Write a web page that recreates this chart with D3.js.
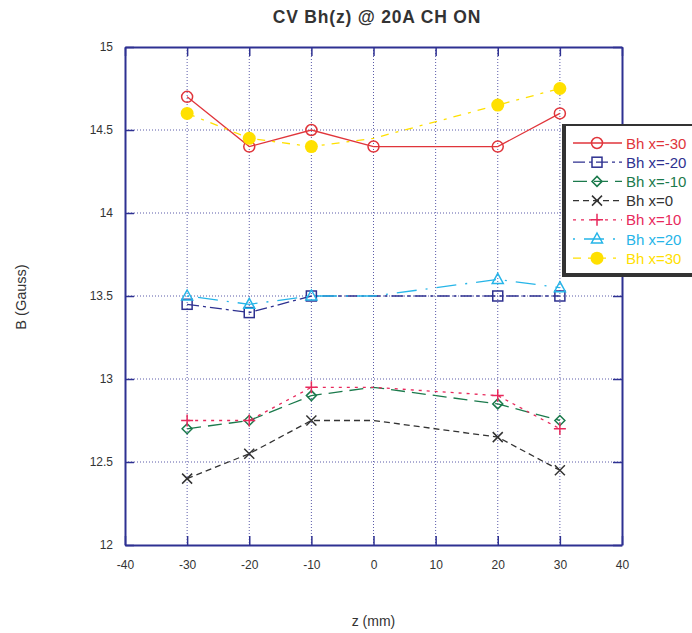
<!DOCTYPE html>
<html>
<head>
<meta charset="utf-8">
<script src="https://cdn.jsdelivr.net/npm/d3@7"></script>
<style>
  html, body { margin: 0; padding: 0; background: #fff; }
  svg { display: block; font-family: "Liberation Sans", Arial, sans-serif; }
</style>
</head>
<body>
<svg id="chart" width="692" height="633"></svg>
<script>
// z positions (mm) where Bh was measured
const zValues = [-30, -20, -10, 0, 20, 30];

// Bh (Gauss) for each transverse offset x
const bhXm30 = [14.7, 14.4, 14.5, 14.4, 14.4, 14.6];
const bhXm20 = [13.45, 13.4, 13.5, 13.5, 13.5, 13.5];
const bhXm10 = [12.7, 12.75, 12.9, 12.95, 12.85, 12.75];
const bhX0   = [12.4, 12.55, 12.75, 12.75, 12.65, 12.45];
const bhX10  = [12.75, 12.75, 12.95, 12.95, 12.9, 12.7];
const bhX20  = [13.5, 13.45, 13.5, 13.5, 13.6, 13.55];
const bhX30  = [14.6, 14.45, 14.4, 14.45, 14.65, 14.75];

const seriesNames = ["Bh x=-30", "Bh x=-20", "Bh x=-10", "Bh x=0", "Bh x=10", "Bh x=20", "Bh x=30"];

const xTicks = [-40, -30, -20, -10, 0, 10, 20, 30, 40];
const yTicks = [12, 12.5, 13, 13.5, 14, 14.5, 15];

const series = [
  { name: seriesNames[0], values: bhXm30, color: "#e0353b", dash: null,            marker: "circle",   markZero: true },
  { name: seriesNames[1], values: bhXm20, color: "#2e3190", dash: "12,4,3,4",      marker: "square",   markZero: false },
  { name: seriesNames[2], values: bhXm10, color: "#1b7a4c", dash: "14,7",          marker: "diamond",  markZero: false },
  { name: seriesNames[3], values: bhX0,   color: "#333333", dash: "6,4",           marker: "cross",    markZero: false },
  { name: seriesNames[4], values: bhX10,  color: "#e8295c", dash: "3,5",           marker: "plus",     markZero: false },
  { name: seriesNames[5], values: bhX20,  color: "#26b5e8", dash: "2,9,20,9",      marker: "triangle", markZero: false },
  { name: seriesNames[6], values: bhX30,  color: "#ffe000", dash: "8,7,3,7",       marker: "dot",      markZero: false }
];

const svg = d3.select("#chart");
const plotLeft = 125, plotRight = 622, plotTop = 47, plotBottom = 545;
const axisColor = "#2e3192";
const textColor = "#333333";

const x = d3.scaleLinear().domain([-40, 40]).range([plotLeft, plotRight]);
const y = d3.scaleLinear().domain([12, 15]).range([plotBottom, plotTop]);

// Title
svg.append("text")
  .attr("x", 377).attr("y", 23)
  .attr("text-anchor", "middle")
  .attr("font-size", 17.5).attr("font-weight", "bold")
  .attr("letter-spacing", 0.8)
  .attr("fill", textColor)
  .text("CV Bh(z) @ 20A CH ON");

// Dotted grid
const grid = svg.append("g");
grid.selectAll("line.gx").data(xTicks.slice(1, -1)).join("line")
  .attr("x1", d => x(d)).attr("x2", d => x(d))
  .attr("y1", plotTop).attr("y2", plotBottom)
  .attr("stroke", "#5a5aa8").attr("stroke-width", 1).attr("stroke-dasharray", "1,2");
grid.selectAll("line.gy").data(yTicks.slice(1, -1)).join("line")
  .attr("y1", d => y(d)).attr("y2", d => y(d))
  .attr("x1", plotLeft).attr("x2", plotRight)
  .attr("stroke", "#5a5aa8").attr("stroke-width", 1).attr("stroke-dasharray", "1,2");

// Axes with inward ticks on all four sides
function styleAxis(g) {
  g.select(".domain").attr("stroke", axisColor).attr("stroke-width", 2);
  g.selectAll(".tick line").attr("stroke", axisColor).attr("stroke-width", 1.5);
  g.selectAll(".tick text").attr("fill", textColor).attr("font-size", 12)
    .attr("font-family", "'Liberation Sans', Arial, sans-serif");
}
const plainFormat = d => String(d);
svg.append("g").attr("transform", `translate(0,${plotBottom})`)
  .call(d3.axisBottom(x).tickValues(xTicks).tickSize(-9).tickPadding(15).tickFormat(plainFormat).tickSizeOuter(0))
  .call(styleAxis);
svg.append("g").attr("transform", `translate(0,${plotTop})`)
  .call(d3.axisTop(x).tickValues(xTicks).tickSize(-9).tickFormat("").tickSizeOuter(0))
  .call(styleAxis);
svg.append("g").attr("transform", `translate(${plotLeft},0)`)
  .call(d3.axisLeft(y).tickValues(yTicks).tickSize(-9).tickPadding(12).tickFormat(plainFormat).tickSizeOuter(0))
  .call(styleAxis);
svg.append("g").attr("transform", `translate(${plotRight},0)`)
  .call(d3.axisRight(y).tickValues(yTicks).tickSize(-9).tickFormat("").tickSizeOuter(0))
  .call(styleAxis);

// Axis titles
svg.append("text")
  .attr("x", x(0)).attr("y", 626)
  .attr("text-anchor", "middle").attr("font-size", 14).attr("fill", textColor)
  .text("z (mm)");
svg.append("text")
  .attr("transform", `translate(26,297) rotate(-90)`)
  .attr("text-anchor", "middle").attr("font-size", 14.5).attr("fill", textColor)
  .text("B (Gauss)");

// Marker drawing
function drawMarker(g, type, color) {
  switch (type) {
    case "circle":
      g.append("circle").attr("r", 5.5).attr("fill", "none").attr("stroke", color).attr("stroke-width", 1.5); break;
    case "square":
      g.append("rect").attr("x", -5).attr("y", -5).attr("width", 10).attr("height", 10)
        .attr("fill", "none").attr("stroke", color).attr("stroke-width", 1.5); break;
    case "diamond":
      g.append("path").attr("d", "M0,-5L5,0L0,5L-5,0Z").attr("fill", "none").attr("stroke", color).attr("stroke-width", 1.5); break;
    case "cross":
      g.append("path").attr("d", "M-5,-5L5,5M-5,5L5,-5").attr("stroke", color).attr("stroke-width", 1.5); break;
    case "plus":
      g.append("path").attr("d", "M-6,0L6,0M0,-6L0,6").attr("stroke", color).attr("stroke-width", 1.5); break;
    case "triangle":
      g.append("path").attr("d", "M0,-6L5.5,4L-5.5,4Z").attr("fill", "none").attr("stroke", color).attr("stroke-width", 1.5); break;
    case "dot":
      g.append("circle").attr("r", 6.5).attr("fill", color); break;
  }
}

const line = d3.line().x(d => x(d.z)).y(d => y(d.v));

series.forEach(s => {
  const pts = zValues.map((z, i) => ({ z, v: s.values[i] }));
  const g = svg.append("g");
  g.append("path").datum(pts).attr("d", line)
    .attr("fill", "none").attr("stroke", s.color).attr("stroke-width", 1.3)
    .attr("stroke-dasharray", s.dash);
  pts.filter(p => p.z !== 0 || s.markZero).forEach(p => {
    drawMarker(g.append("g").attr("transform", `translate(${x(p.z)},${y(p.v)})`), s.marker, s.color);
  });
});

// Legend box with heavy frame
const lg = svg.append("g").attr("transform", "translate(563,125)");
lg.append("rect").attr("x", 0).attr("y", 0).attr("width", 140).attr("height", 150)
  .attr("fill", "#fff").attr("stroke", "#333").attr("stroke-width", 2);
lg.append("rect").attr("x", -1).attr("y", 0).attr("width", 4).attr("height", 152).attr("fill", "#333");
lg.append("rect").attr("x", -1).attr("y", 148).attr("width", 141).attr("height", 4).attr("fill", "#333");

series.forEach((s, i) => {
  const yy = 18 + i * 19.2;
  lg.append("line").attr("x1", 10).attr("x2", 59).attr("y1", yy).attr("y2", yy)
    .attr("stroke", s.color).attr("stroke-width", 1.3).attr("stroke-dasharray", s.dash);
  drawMarker(lg.append("g").attr("transform", `translate(34,${yy})`), s.marker, s.color);
  lg.append("text").attr("x", 63).attr("y", yy + 5.5)
    .attr("font-size", 15).attr("fill", s.color).text(s.name);
});
</script>
</body>
</html>
